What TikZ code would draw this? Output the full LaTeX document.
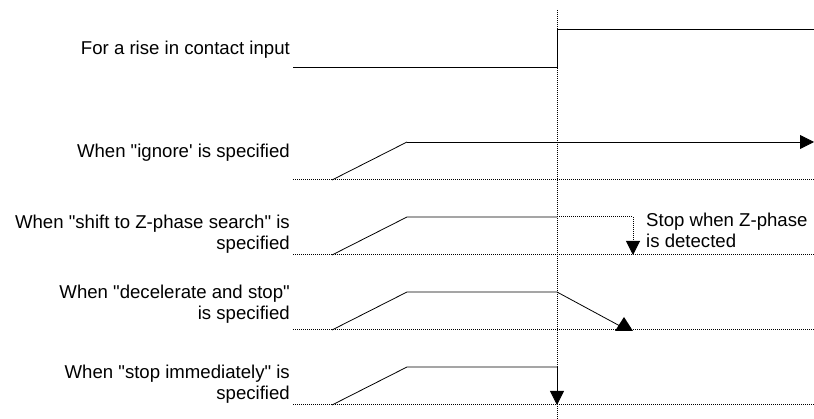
\documentclass[tikz,border=0pt]{standalone}
\usepackage{fontspec}
\setmainfont{Liberation Sans}[Ligatures=TeXOff]
\usetikzlibrary{arrows.meta, positioning}

\begin{document}
\begin{tikzpicture}[x=1pt, y=-1pt,
    sig/.style={line width=0.8pt, black},
    baseln/.style={line width=1pt, dash pattern=on 1pt off 1pt, black},
    arr/.style={-{Triangle[length=14pt,width=14pt]}},
    lab/.style={font=\fontsize{18.6}{21}\selectfont, align=right, inner sep=0pt, anchor=base east},
    note/.style={font=\fontsize{18.6}{21}\selectfont, align=left, inner sep=0pt, anchor=base west},
]
\useasboundingbox (0,0) rectangle (814,419);

% trigger instant
\coordinate (ttop) at (557,10);
\coordinate (tbot) at (557,419);
\draw[baseln] (ttop) -- (tbot);

% contact input
\node[lab] (in) at (290,55) {For a rise in contact input};
\coordinate (in0) at (293,67);
\coordinate (in1) at (557,67);
\coordinate (in2) at (557,29);
\coordinate (in3) at (814,29);
\draw[sig] (in0) -- (in1) -- (in2) -- (in3);

% ignore
\node[lab] (ig) at (290,158) {When "ignore' is specified};
\coordinate (igb0) at (293,180);
\coordinate (igb1) at (814,180);
\coordinate (ig0) at (332,180);
\coordinate (ig1) at (407,142);
\coordinate (ig2) at (814,142);
\draw[baseln] (igb0) -- (igb1);
\draw[sig] (ig0) -- (ig1);
\draw[sig, arr] (ig1) -- (ig2);

% shift to Z-phase search
\node[lab] (zs) at (290,250) {When "shift to Z-phase search" is\\specified};
\coordinate (zsb0) at (293,255);
\coordinate (zsb1) at (814,255);
\coordinate (zs0) at (332,255);
\coordinate (zs1) at (407,217);
\coordinate (zs2) at (557,217);
\coordinate (zs3) at (633,217);
\coordinate (zs4) at (633,255);
\draw[baseln] (zsb0) -- (zsb1);
\draw[sig] (zs0) -- (zs1) -- (zs2);
\draw[baseln, arr] (zs2) -- (zs3) -- (zs4);
\node[note] (zn) at (646,248) {Stop when Z-phase\\is detected};

% decelerate and stop
\node[lab] (dc) at (290,320) {When "decelerate and stop"\\is specified};
\coordinate (dcb0) at (293,330);
\coordinate (dcb1) at (814,330);
\coordinate (dc0) at (332,330);
\coordinate (dc1) at (407,292);
\coordinate (dc2) at (557,292);
\coordinate (dc3) at (620,326);
\draw[baseln] (dcb0) -- (dcb1);
\draw[sig] (dc0) -- (dc1) -- (dc2) -- (dc3);
\fill[black] (624,317) -- (633,331) -- (615,331) -- cycle;

% stop immediately
\node[lab] (si) at (290,400) {When "stop immediately" is\\specified};
\coordinate (sib0) at (293,405);
\coordinate (sib1) at (814,405);
\coordinate (si0) at (332,405);
\coordinate (si1) at (407,367);
\coordinate (si2) at (557,367);
\coordinate (si3) at (557,405);
\draw[baseln] (sib0) -- (sib1);
\draw[sig] (si0) -- (si1) -- (si2);
\draw[sig, arr] (si2) -- (si3);
\end{tikzpicture}
\end{document}
